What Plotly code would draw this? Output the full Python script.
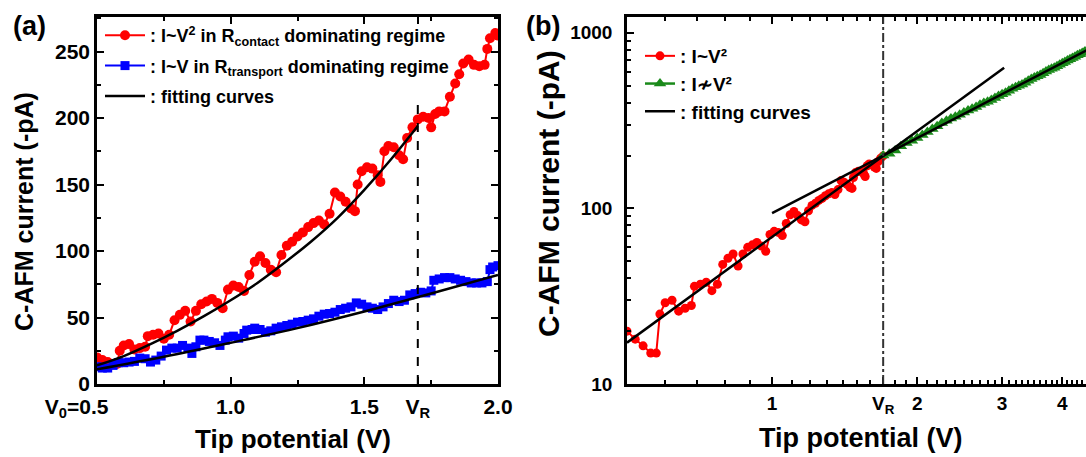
import math
import plotly.graph_objects as go

# ---------------- data ----------------
V_R = 1.7

red_v = [0.50, 0.52, 0.54, 0.56, 0.575, 0.585, 0.60, 0.62, 0.64, 0.66, 0.68, 0.69, 0.71, 0.73, 0.75,
         0.77, 0.79, 0.81, 0.83, 0.85, 0.87, 0.89, 0.91, 0.93, 0.95, 0.97, 0.99, 1.01, 1.03, 1.05,
         1.07, 1.09, 1.11, 1.13, 1.15, 1.17, 1.19, 1.21, 1.23, 1.25, 1.27, 1.29, 1.31, 1.33, 1.35,
         1.37, 1.39, 1.41, 1.43, 1.45, 1.465, 1.475, 1.49, 1.51, 1.53, 1.55, 1.56, 1.575, 1.59, 1.61,
         1.63, 1.645, 1.66, 1.68, 1.70, 1.72, 1.74, 1.75, 1.765, 1.78, 1.80, 1.82, 1.84, 1.855, 1.87,
         1.89, 1.91, 1.93, 1.95, 1.96, 1.97, 1.99, 2.00]
red_i = [20, 18, 16.5, 15, 15, 25, 29, 30, 26, 27, 28, 36, 37, 38, 34,
         37, 48, 52, 55, 47, 55, 60, 62, 64, 61, 57, 71, 74, 73, 70,
         82, 92, 96, 91, 86, 84, 97, 104, 107, 111, 114, 118, 121, 123, 120,
         128, 144, 141, 137, 132, 130, 150, 160, 163, 162, 157, 152, 175, 179, 178,
         172, 169, 185, 193, 199, 201, 200, 193, 203, 205, 205, 216, 226, 233, 241,
         244, 240, 239, 240, 252, 260, 264, 262]

blue_v = [0.50, 0.52, 0.54, 0.56, 0.58, 0.60, 0.62, 0.64, 0.66, 0.68, 0.70, 0.72, 0.74, 0.76, 0.78,
          0.80, 0.82, 0.84, 0.855, 0.87, 0.885, 0.90, 0.92, 0.94, 0.96, 0.98, 0.99, 1.01, 1.03, 1.05,
          1.06, 1.08, 1.09, 1.11, 1.13, 1.15, 1.17, 1.19, 1.21, 1.23, 1.25, 1.27, 1.29, 1.31, 1.33,
          1.35, 1.37, 1.39, 1.41, 1.43, 1.45, 1.47, 1.49, 1.51, 1.53, 1.55, 1.57, 1.59, 1.61, 1.63,
          1.65, 1.67, 1.69, 1.71, 1.73, 1.75, 1.76, 1.78, 1.80, 1.82, 1.84, 1.86, 1.88, 1.90, 1.92,
          1.94, 1.96, 1.97, 1.98, 2.00]
blue_i = [13, 12, 12, 14, 16, 16, 16.5, 17, 19.5, 19, 16.5, 18, 21, 25.5, 27,
          27, 29, 27, 23, 28, 33, 33, 32, 31, 29, 33, 35.5, 36, 34.5, 38,
          40.5, 41, 42, 41, 39, 40, 42, 43, 44, 45, 46.5, 47, 48, 49, 51,
          52.5, 53, 54, 56, 57, 58, 61, 60, 58, 57, 56, 58, 60.5, 63, 62,
          63, 67, 68, 69, 68.5, 70, 78, 79, 80, 80, 79, 78, 77, 76, 76,
          76, 77, 86, 88, 89]

green_v = [1.70, 1.75, 1.80, 1.85, 1.90, 1.95, 2.00, 2.05, 2.10, 2.15, 2.20, 2.25, 2.30, 2.35, 2.40,
           2.45, 2.50, 2.55, 2.60, 2.65, 2.70, 2.75, 2.80, 2.85, 2.90, 2.95, 3.00, 3.05, 3.10, 3.15,
           3.20, 3.25, 3.30, 3.35, 3.40, 3.45, 3.50, 3.55, 3.60, 3.65, 3.70, 3.75, 3.80, 3.85, 3.90,
           3.95, 4.00, 4.05, 4.10, 4.15, 4.20, 4.25, 4.30, 4.35, 4.40, 4.45, 4.50]
green_i = [200, 205, 214, 226, 236, 243, 252, 262, 272, 283, 294, 306, 316, 325, 333,
           342, 352, 361, 370, 378, 389, 398, 405, 414, 425, 436, 447, 456, 468, 480,
           490, 499, 508, 520, 533, 546, 557, 565, 575, 589, 603, 615, 624, 633, 645,
           657, 670, 683, 695, 707, 718, 731, 744, 756, 768, 780, 795]

# fitting curves
fit_red_a_v = [0.5, 0.6, 0.7, 0.8, 0.9, 1.0, 1.1, 1.2, 1.3, 1.4, 1.5, 1.6, 1.7]
fit_red_a_i = [14, 21, 30, 40, 51, 63, 76, 91, 107, 125, 146, 169, 194]
fit_blue_a_v = [0.5, 0.75, 1.0, 1.25, 1.5, 1.75, 2.0]
fit_blue_a_i = [11, 20.5, 31, 42, 54.5, 68, 82]
fit_red_b_v = [0.5, 3.03]
fit_red_b_i = [17.2, 632]
fit_green_b_v = [1.0, 4.5]
fit_green_b_i = [94, 797]

vr_line_top_a = 211

# ---------------- figure ----------------
W, H = 1086, 457
FONT = "Liberation Sans, Arial, sans-serif"


def px(x):
    return x / W


def py(y):
    return 1 - y / H


fig = go.Figure()

# panel (a)
fig.add_trace(go.Scatter(
    x=red_v, y=red_i, mode="lines+markers", xaxis="x", yaxis="y",
    line=dict(color="#ff0000", width=2), marker=dict(symbol="circle", size=10, color="#ff0000"),
    name=": I~V<sup>2</sup> in R<sub>contact</sub> dominating regime",
    legend="legend", legendgroup="a1"))
fig.add_trace(go.Scatter(
    x=blue_v, y=blue_i, mode="lines+markers", xaxis="x", yaxis="y",
    line=dict(color="#0000ff", width=2), marker=dict(symbol="square", size=9, color="#0000ff"),
    name=": I~V in R<sub>transport</sub> dominating regime",
    legend="legend", legendgroup="a2"))
fig.add_trace(go.Scatter(
    x=fit_red_a_v, y=fit_red_a_i, mode="lines", xaxis="x", yaxis="y",
    line=dict(color="black", width=2.5, shape="spline"),
    name=": fitting curves", legend="legend", legendgroup="a3"))
fig.add_trace(go.Scatter(
    x=fit_blue_a_v, y=fit_blue_a_i, mode="lines", xaxis="x", yaxis="y",
    line=dict(color="black", width=2.5, shape="spline"),
    showlegend=False, legendgroup="a3"))

# panel (b)
red_b_v = [v for v in red_v if v <= V_R]
red_b_i = [i for v, i in zip(red_v, red_i) if v <= V_R]
fig.add_trace(go.Scatter(
    x=red_b_v, y=red_b_i, mode="lines+markers", xaxis="x2", yaxis="y2",
    line=dict(color="#ff0000", width=2), marker=dict(symbol="circle", size=9, color="#ff0000"),
    name=": I~V\u00b2", legend="legend2", legendgroup="b1"))
fig.add_trace(go.Scatter(
    x=green_v, y=green_i, mode="lines+markers", xaxis="x2", yaxis="y2",
    line=dict(color="#1a8a1a", width=2.5), marker=dict(symbol="triangle-up", size=11, color="#1a8a1a"),
    name=": I\u2241V\u00b2", legend="legend2", legendgroup="b2"))
fig.add_trace(go.Scatter(
    x=fit_red_b_v, y=fit_red_b_i, mode="lines", xaxis="x2", yaxis="y2",
    line=dict(color="black", width=2.5),
    name=": fitting curves", legend="legend2", legendgroup="b3"))
fig.add_trace(go.Scatter(
    x=fit_green_b_v, y=fit_green_b_i, mode="lines", xaxis="x2", yaxis="y2",
    line=dict(color="black", width=2.5), showlegend=False, legendgroup="b3"))

tickfont_a = dict(family=FONT, size=21, color="black", weight="bold")
tickfont_b = dict(family=FONT, size=19, color="black", weight="bold")

axis_common = dict(showline=True, linecolor="black", linewidth=2.5, ticks="inside",
                   ticklen=7, tickwidth=2, tickcolor="black", showgrid=False, zeroline=False,
                   automargin=False)

nb = "\u00a0"
ydom = [py(384), py(17)]


def ann(text, x, y, size, angle=0):
    return dict(text=text, x=px(x), y=py(y), xref="paper", yref="paper", showarrow=False,
                xanchor="center", yanchor="middle", textangle=angle,
                font=dict(family=FONT, size=size, color="black", weight="bold"))


fig.update_layout(
    width=W, height=H, margin=dict(l=0, r=0, t=0, b=0, pad=0, autoexpand=False),
    paper_bgcolor="white", plot_bgcolor="white",
    font=dict(family=FONT, color="black"),
    xaxis=dict(domain=[px(97), px(498)], range=[0.5, 2.0], anchor="y", mirror="ticks",
               tickmode="array", tickvals=[0.5, 1.0, 1.5, V_R, 2.0],
               ticktext=["V<sub>0</sub>=0.5" + nb * 7, "1.0", "1.5", "V<sub>R</sub>", "2.0"],
               tickfont=tickfont_a, ticklabelstandoff=2,
               minor=dict(tickmode="array", tickvals=[0.75, 1.25, 1.75], ticks="inside",
                          ticklen=4, tickwidth=2, tickcolor="black"),
               **axis_common),
    yaxis=dict(domain=ydom, range=[0, 276], anchor="x", mirror="ticks",
               tickmode="array", tickvals=[0, 50, 100, 150, 200, 250],
               tickfont=tickfont_a,
               minor=dict(tickmode="array", tickvals=[25, 75, 125, 175, 225, 275], ticks="inside",
                          ticklen=4, tickwidth=2, tickcolor="black"),
               **axis_common),
    xaxis2=dict(type="log", domain=[px(627), 1.0], range=[math.log10(0.5), math.log10(4.48)],
                anchor="y2", mirror="ticks",
                tickmode="array", tickvals=[1, V_R, 2, 3, 4],
                ticktext=["1", "V<sub>R</sub>", "2", "3", "4"],
                tickfont=tickfont_b,
                minor=dict(tickmode="array",
                           tickvals=[round(0.5 + 0.1 * k, 2) for k in range(1, 45)
                                     if round(0.5 + 0.1 * k, 2) not in (1.0, 1.7, 2.0, 3.0, 4.0)],
                           ticks="inside", ticklen=4, tickwidth=1.5, tickcolor="black"),
                **axis_common),
    yaxis2=dict(type="log", domain=ydom, range=[1, 3.09], anchor="x2",
                tickmode="array", tickvals=[10, 100, 1000], ticktext=["10", "100", "1000"],
                tickfont=tickfont_b, ticklabelstandoff=8,
                minor=dict(tickmode="array",
                           tickvals=[m * d for d in (10, 100) for m in range(2, 10)],
                           ticks="inside", ticklen=4, tickwidth=1.5, tickcolor="black"),
                **axis_common),
    legend=dict(x=px(100), y=py(17), xanchor="left", yanchor="top", bgcolor="rgba(0,0,0,0)",
                font=dict(family=FONT, size=18, color="black", weight="bold"),
                traceorder="grouped", tracegroupgap=4, itemwidth=40),
    legend2=dict(x=px(640), y=py(37), xanchor="left", yanchor="top", bgcolor="rgba(0,0,0,0)",
                 font=dict(family=FONT, size=19, color="black", weight="bold"),
                 traceorder="grouped", tracegroupgap=0, itemwidth=30),
    shapes=[
        dict(type="line", xref="x", yref="y", x0=V_R, x1=V_R, y0=0, y1=vr_line_top_a,
             line=dict(color="black", width=2, dash="dash")),
        dict(type="line", xref="x2", yref="y2 domain", x0=V_R, x1=V_R, y0=0, y1=1,
             line=dict(color="#333333", width=2, dash="dashdot")),
    ],
    annotations=[
        ann("(a)", 29, 26, 27),
        ann("(b)", 543, 26, 27),
        ann("Tip potential (V)", 293, 439, 26),
        ann("Tip potential (V)", 861, 438, 27),
        ann("C-AFM current (-pA)", 24, 212, 25, -90),
        ann("C-AFM current (-pA)", 548, 194, 30, -90),
    ],
)

fig.write_html("out.html", config={"displayModeBar": False},
               post_script="document.body.style.margin='0px';")
